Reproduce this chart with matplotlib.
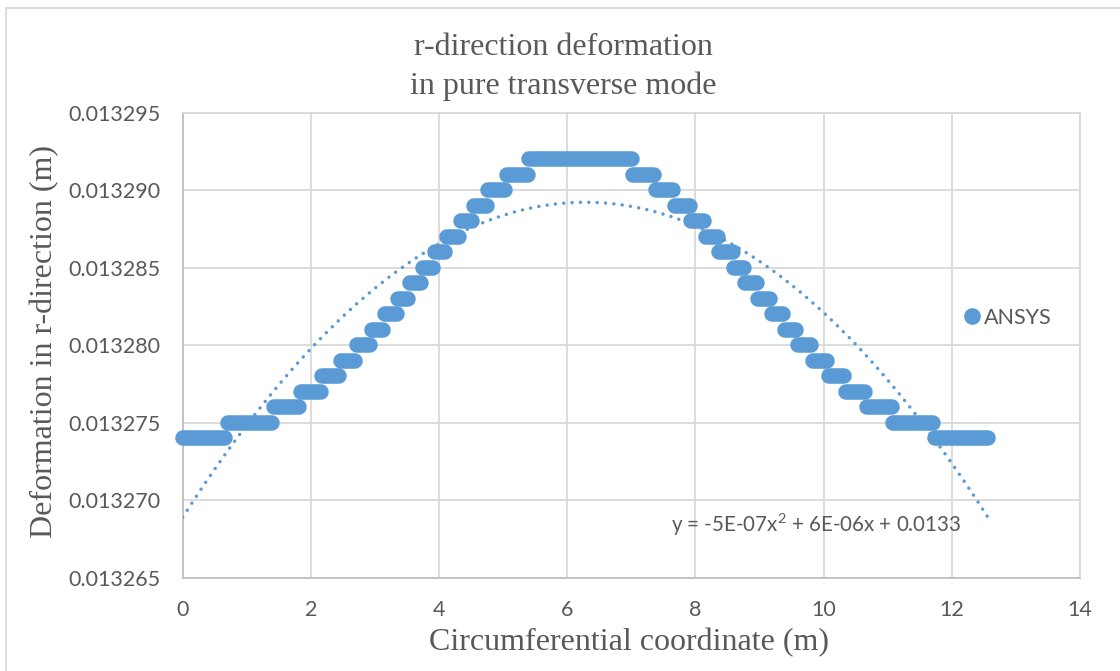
import numpy as np
import matplotlib
matplotlib.use("Agg")
import matplotlib.pyplot as plt
from matplotlib.lines import Line2D

# each plateau of the ANSYS result: deformation level and x range covered by its points
levels = [0.013274, 0.013275, 0.013276, 0.013277, 0.013278, 0.013279, 0.013280,
          0.013281, 0.013282, 0.013283, 0.013284, 0.013285, 0.013286, 0.013287,
          0.013288, 0.013289, 0.013290, 0.013291, 0.013292,
          0.013291, 0.013290, 0.013289, 0.013288, 0.013287, 0.013286, 0.013285,
          0.013284, 0.013283, 0.013282, 0.013281, 0.013280, 0.013279, 0.013278,
          0.013277, 0.013276, 0.013275, 0.013274]
x_start = [0.00, 0.70, 1.42, 1.85, 2.18, 2.47, 2.72, 2.95, 3.16, 3.36, 3.54, 3.75,
           3.93, 4.13, 4.34, 4.55, 4.77, 5.06, 5.41,
           7.03, 7.39, 7.68, 7.93, 8.16, 8.37, 8.60, 8.78, 8.98, 9.19, 9.40, 9.60,
           9.84, 10.09, 10.35, 10.68, 11.09, 11.73]
x_end = [0.66, 1.39, 1.82, 2.16, 2.44, 2.69, 2.93, 3.13, 3.34, 3.52, 3.72, 3.90,
         4.10, 4.31, 4.52, 4.74, 5.03, 5.38, 7.01,
         7.36, 7.65, 7.91, 8.14, 8.35, 8.58, 8.75, 8.96, 9.16, 9.37, 9.57, 9.81,
         10.06, 10.32, 10.65, 11.06, 11.70, 12.57]

# Excel polynomial trendline (order 2)
trend_coef = [-5.15e-7, 6.47e-6, 0.0132689]
trend_x = [0.0, 12.57]
trend_label = r"y = -5E-07x$^{\mathrm{2}}$ + 6E-06x + 0.0133"

x_ticks = [0, 2, 4, 6, 8, 10, 12, 14]
y_ticks = [0.013265, 0.013270, 0.013275, 0.013280, 0.013285, 0.013290, 0.013295]

blue = "#5b9bd5"
grey_txt = "#595959"
grid_c = "#d9d9d9"

plt.rcParams["mathtext.fontset"] = "custom"
plt.rcParams["mathtext.rm"] = "Lato"
plt.rcParams["mathtext.it"] = "Lato"

W, H = 1120, 671
fig = plt.figure(figsize=(W / 100, H / 100), dpi=100)
ax = fig.add_axes([182.7 / W, 1 - 577.7 / H, (1080 - 182.7) / W, (577.7 - 112.7) / H])

# runs of overlapping markers
for lv, a, b in zip(levels, x_start, x_end):
    ax.plot([a, b], [lv, lv], color=blue, lw=11.2, solid_capstyle="round",
            zorder=3, clip_on=False)

tx = np.linspace(trend_x[0], trend_x[1], 300)
ax.plot(tx, np.polyval(trend_coef, tx), color=blue, lw=2.5,
        linestyle=(0, (0.01, 2.4)), dash_capstyle="round", zorder=4)

ax.set_xlim(0, 14)
ax.set_ylim(0.013265, 0.013295)
ax.set_xticks(x_ticks)
ax.set_yticks(y_ticks)
ax.set_yticklabels([f"{v:.6f}" for v in y_ticks])
ax.grid(True, color=grid_c, lw=1.3, zorder=0)
ax.set_axisbelow(True)
for s in ax.spines.values():
    s.set_color(grid_c)
    s.set_linewidth(1.3)
ax.spines["left"].set_color("#bfbfbf")
ax.spines["bottom"].set_color("#bfbfbf")
ax.tick_params(length=0, labelsize=15.5, labelcolor=grey_txt, pad=16)
for lab in ax.get_xticklabels() + ax.get_yticklabels():
    lab.set_fontfamily("Lato")

ax.text(670.7 / W, 1 - 525 / H, trend_label, transform=fig.transFigure,
        fontsize=14.8, color=grey_txt, family="Lato", va="center", ha="left")

fig.text(563.5 / W, 1 - 67 / H, "r-direction deformation\nin pure transverse mode",
         family="Liberation Serif", fontsize=23, color=grey_txt,
         ha="center", va="center", linespacing=1.42)
fig.text(629 / W, 1 - 643 / H, "Circumferential coordinate (m)",
         family="Liberation Serif", fontsize=23, color=grey_txt, ha="center", va="center")
fig.text(45 / W, 1 - 341 / H, "Deformation in r-direction (m)", rotation=90,
         family="Liberation Serif", fontsize=23, color=grey_txt, ha="center", va="center")

handle = Line2D([], [], color=blue, marker="o", markersize=11, linestyle="none")
fig.legend([handle], ["ANSYS"], loc="center left", bbox_to_anchor=(953 / W, 1 - 318 / H),
           frameon=False, handlelength=0.8, handletextpad=0.15, borderpad=0,
           prop={"family": "Lato", "size": 15.5}, labelcolor=grey_txt)

# chart area border (left and top edges visible in the crop)
fig.add_artist(Line2D([6 / W, 6 / W], [0, 1 - 8 / H], color=grid_c, lw=1.3))
fig.add_artist(Line2D([6 / W, 1], [1 - 8 / H, 1 - 8 / H], color=grid_c, lw=1.3))

fig.savefig("out.png", dpi=100)
